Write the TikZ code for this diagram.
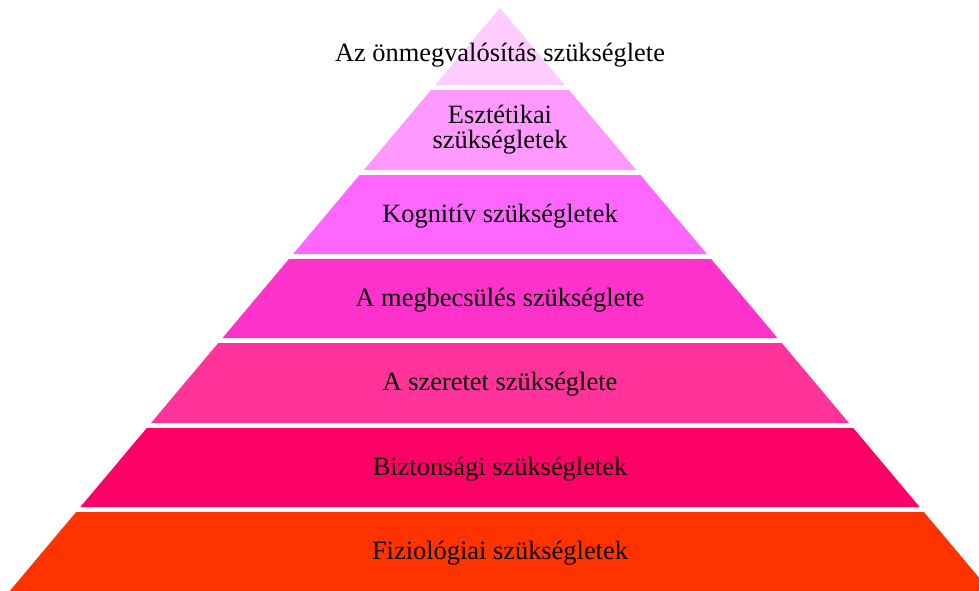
\documentclass[tikz,border=0pt]{standalone}
\usepackage{fontspec}
\setmainfont{Liberation Serif}
\usetikzlibrary{positioning}
\definecolor{lvlself}{HTML}{FFCCFF}
\definecolor{lvlaest}{HTML}{FF99FF}
\definecolor{lvlcogn}{HTML}{FF66FF}
\definecolor{lvlestm}{HTML}{FF33CC}
\definecolor{lvllove}{HTML}{FF3399}
\definecolor{lvlsafe}{HTML}{FF0066}
\definecolor{lvlphys}{HTML}{FF3300}
\tikzset{
  lbl/.style={font=\fontsize{26.4}{25}\selectfont, text=black, align=center, inner sep=0pt, anchor=base},
}

\begin{document}
\begin{tikzpicture}[x=1pt, y=-1pt]
  \useasboundingbox (0,0) rectangle (979,590);
  % pyramid layers, cut at the page edge
  \begin{scope}
    \clip (0,0) rectangle (979,590);
    \foreach \ytop/\ybot/\col in {8/85/lvlself, 90/170/lvlaest, 175/254/lvlcogn,
        259/338/lvlestm, 343/423/lvllove, 428/507/lvlsafe, 512/600/lvlphys}{
      \fill[\col] ({500-0.841*(\ytop-8)},\ytop) -- ({500+0.841*(\ytop-8)},\ytop)
        -- ({500+0.841*(\ybot-8)},\ybot) -- ({500-0.841*(\ybot-8)},\ybot) -- cycle;
    }
  \end{scope}
  \node[lbl] (self) at (500,61) {Az önmegvalósítás szükséglete};
  \node[lbl] (aest) at (500,148) {Esztétikai\\szükségletek};
  \node[lbl] (cogn) at (500,222) {Kognitív szükségletek};
  \node[lbl] (estm) at (500,306) {A megbecsülés szükséglete};
  \node[lbl] (love) at (500,390.5) {A szeretet szükséglete};
  \node[lbl] (safe) at (500,475) {Biztonsági szükségletek};
  \node[lbl] (phys) at (500,559) {Fiziológiai szükségletek};
\end{tikzpicture}
\end{document}
